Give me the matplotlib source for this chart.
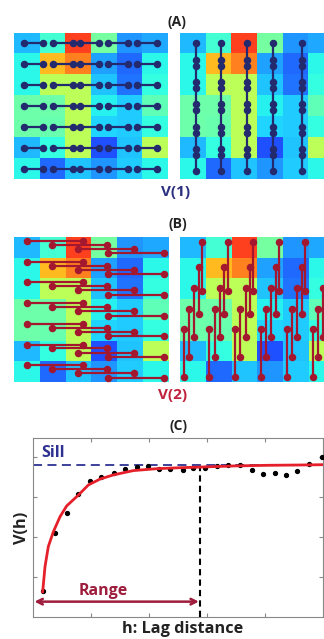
import matplotlib
matplotlib.use("Agg")
import matplotlib.pyplot as plt
import numpy as np

plt.rcParams['font.family'] = ['Open Sans', 'DejaVu Sans']

# ---------------- data ----------------
# field values (jet colormap scale 0..1), 7 rows x 6 columns
field_rows = [
    [0.30, 0.40, 0.87, 0.47, 0.26, 0.28],
    [0.37, 0.72, 0.79, 0.27, 0.21, 0.37],
    [0.37, 0.57, 0.57, 0.31, 0.22, 0.38],
    [0.46, 0.46, 0.57, 0.36, 0.32, 0.44],
    [0.46, 0.45, 0.57, 0.33, 0.32, 0.38],
    [0.30, 0.38, 0.57, 0.18, 0.31, 0.57],
    [0.37, 0.21, 0.31, 0.26, 0.32, 0.37],
]

# (A) lag-1 pairs
a_h_starts = [0.39, 1.52, 2.57, 3.66, 4.79]
a_h_ends = [1.13, 2.30, 3.31, 4.44, 5.56]
a_v_cols = [0.62, 1.60, 2.60, 3.62, 4.75]
a_v_starts = [0.48, 1.58, 2.63, 3.68, 4.78, 5.84]
a_v_ends = [1.29, 2.34, 3.40, 4.50, 5.55, 6.60]

# (B) lag-2 pairs
b_h_starts = [0.50, 1.48, 2.49, 3.62]
b_h_ends = [2.68, 3.60, 4.64, 5.80]
b_h_offsets = [0.19, 0.38, 0.58, 0.79]
b_v_xoffsets = [0.84, 0.72, 0.54, 0.34, 0.14]
b_v_tops = [0.26, 1.43, 2.45, 3.46, 4.44]
b_v_bottoms = [2.60, 3.73, 4.82, 5.80, 6.75]
b_v_groups = [0, 1, 2, 3, 4, 5]

# (C) variogram
lag_pts = [1.8, 3.8, 5.8, 7.8, 9.8, 11.8, 13.9, 15.9, 17.9, 19.9, 21.8, 23.7,
           25.8, 27.6, 29.7, 31.7, 33.7, 35.7, 37.7, 39.7, 41.7, 43.6, 45.6,
           47.6, 49.8]
gamma_pts = [0.165, 0.523, 0.648, 0.767, 0.850, 0.877, 0.898, 0.923, 0.940,
             0.944, 0.925, 0.923, 0.919, 0.933, 0.931, 0.944, 0.948, 0.952,
             0.917, 0.894, 0.898, 0.888, 0.913, 0.958, 0.998]
model_x = [1.67, 2.07, 2.64, 3.51, 4.66, 5.80, 7.82, 9.54, 11.55, 13.85,
           17.30, 21.32, 25.34, 28.79, 34.54, 40.29, 46.03, 50.05]
model_y = [0.158, 0.315, 0.440, 0.533, 0.627, 0.694, 0.762, 0.825, 0.862,
           0.888, 0.915, 0.927, 0.933, 0.937, 0.944, 0.948, 0.950, 0.952]
sill = 0.95
range_h = 28.8
range_top = 0.93
arrow_y = 0.096

# ---------------- figure ----------------
W, H = 324, 639
fig = plt.figure(figsize=(W / 100, H / 100), dpi=100)


def px_axes(x0, y0, x1, y1):
    return fig.add_axes([x0 / W, 1 - y1 / H, (x1 - x0) / W, (y1 - y0) / H])


field = np.array(field_rows)
NAVY = '#232a6e'
CRIM = '#a3182f'


def field_ax(x0, y0, x1, y1, xmax):
    ax = px_axes(x0, y0, x1, y1)
    ax.imshow(field, cmap='jet', vmin=0, vmax=1, extent=(0, 6, 7, 0),
              aspect='auto', interpolation='nearest', alpha=0.88)
    ax.set_xlim(0, xmax)
    ax.set_ylim(7, 0)
    ax.axis('off')
    return ax


# Panel A
axA1 = field_ax(14, 33, 168, 179, 6)
for r in range(7):
    for s, e in zip(a_h_starts, a_h_ends):
        axA1.plot([s, e], [r + 0.5, r + 0.5], '-o', color=NAVY, lw=1.6, ms=4.4)
axA2 = field_ax(180, 33, 324, 179, 144 / 25.67)
for c in a_v_cols:
    for s, e in zip(a_v_starts, a_v_ends):
        axA2.plot([c, c], [s, e], '-o', color=NAVY, lw=1.6, ms=4.4)

# Panel B
axB1 = field_ax(14, 237, 169, 382, 6)
for r in range(7):
    for s, e, o in zip(b_h_starts, b_h_ends, b_h_offsets):
        axB1.plot([s, e], [r + o, r + o], '-o', color=CRIM, lw=1.6, ms=4.4)
axB2 = field_ax(180, 237, 324, 382, 144 / 25.83)
for g in b_v_groups:
    for xo, t, b in zip(b_v_xoffsets, b_v_tops, b_v_bottoms):
        axB2.plot([g + xo, g + xo], [t, b], '-o', color=CRIM, lw=1.6, ms=4.4)

# labels
fig.text(177 / W, 1 - 22 / H, '(A)', ha='center', va='center', fontsize=10,
         fontweight='bold', color='#222222')
fig.text(176 / W, 1 - 192 / H, 'V(1)', ha='center', va='center', fontsize=11,
         fontweight='bold', color='#2a2f7f')
fig.text(178 / W, 1 - 224 / H, '(B)', ha='center', va='center', fontsize=10,
         fontweight='bold', color='#222222')
fig.text(173 / W, 1 - 395 / H, 'V(2)', ha='center', va='center', fontsize=11,
         fontweight='bold', color='#c0203a')
fig.text(178 / W, 1 - 426 / H, '(C)', ha='center', va='center', fontsize=10,
         fontweight='bold', color='#222222')

# Panel C
axC = px_axes(33, 438, 323, 617)
axC.set_xlim(0, 50)
axC.set_ylim(0, 179 / 160)
axC.axhline(sill, color='#2e3192', ls=(0, (5, 3)), lw=1.3, zorder=2)
axC.plot(lag_pts, gamma_pts, 'o', color='black', ms=2.8, zorder=3)
axC.plot(model_x, model_y, color='#e5202a', lw=2.0, zorder=4)
axC.plot([range_h, range_h], [0, range_top], color='black', ls=(0, (3, 2)),
         lw=1.5, zorder=3)
axC.annotate('', xy=(0.25, arrow_y), xytext=(range_h - 0.2, arrow_y),
             arrowprops=dict(arrowstyle='<->', color='#9e1c3c', lw=1.8,
                             shrinkA=0, shrinkB=0, mutation_scale=10))
axC.text(12.1, 0.165, 'Range', color='#9e1c3c', fontweight='bold',
         ha='center', va='center', fontsize=11.5)
axC.text(1.5, 1.025, 'Sill', color='#2e3192', fontweight='bold',
         ha='left', va='center', fontsize=11.5)
axC.set_xticks([10, 20, 30, 40])
axC.set_yticks([0.25, 0.5, 0.75, 1.0])
axC.tick_params(direction='in', length=3, top=True, right=True,
                labelbottom=False, labelleft=False, color='#888888')
for sp in axC.spines.values():
    sp.set_color('#888888')
    sp.set_linewidth(0.8)

fig.text(183 / W, 1 - 629 / H, 'h: Lag distance', ha='center', va='center',
         fontsize=11.7, fontweight='bold', color='#222222')
fig.text(22 / W, 1 - 528 / H, 'V(h)', ha='center', va='center', rotation=90,
         fontsize=11.7, fontweight='bold', color='#222222')

fig.savefig('out.png', dpi=100)
